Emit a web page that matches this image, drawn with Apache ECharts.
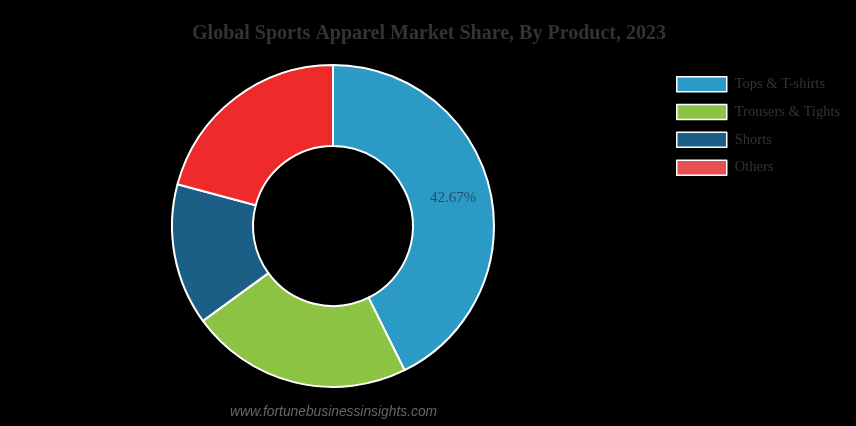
<!DOCTYPE html>
<html><head><meta charset="utf-8">
<script src="https://cdn.jsdelivr.net/npm/echarts@6/dist/echarts.min.js"></script>
<style>html,body{margin:0;padding:0;background:#000;}#c{width:856px;height:426px;}</style>
</head><body><div id="c"></div>
<script>
const categories = ["Tops & T-shirts", "Trousers & Tights", "Shorts", "Others"];
const shares = [42.67, 22.3, 14.2, 20.83];
const colors = ["#2b9bc6", "#8dc343", "#1b5f87", "#ee2a2a"];
const legendColors = ["#2b9bc6", "#8dc343", "#1b5f87", "#e85050"];

const chart = echarts.init(document.getElementById('c'));
chart.setOption({
  backgroundColor: '#000',
  title: {
    text: 'Global Sports Apparel Market Share, By Product, 2023',
    left: 424, top: 19, textAlign: 'center',
    textStyle: {fontFamily: 'Liberation Serif', fontWeight: 'bold', fontSize: 20, color: '#333'}
  },
  legend: {
    orient: 'vertical', left: 671, top: 71, itemWidth: 50, itemHeight: 15, itemGap: 11.3,
    icon: 'rect',
    textStyle: {fontFamily: 'Liberation Serif', fontSize: 14.5, color: '#333', padding: [0, 0, 0, 3]},
    data: categories.map((n, i) => ({name: n, itemStyle: {color: legendColors[i], borderColor: '#fff', borderWidth: 1.5}}))
  },
  graphic: [{
    type: 'text', left: 230, top: 405,
    style: {text: 'www.fortunebusinessinsights.com', fill: '#666', font: 'italic 13.8px "Liberation Sans"'}
  }],
  series: [{
    type: 'pie', center: [333, 226], radius: [80, 161], startAngle: 90, clockwise: true,
    silent: true,
    itemStyle: {borderColor: '#fff', borderWidth: 2},
    label: {show: false},
    labelLine: {show: false},
    data: categories.map((n, i) => ({
      name: n, value: shares[i], itemStyle: {color: colors[i]},
      label: i === 0 ? {show: true, position: 'inside', formatter: '{c}%', color: '#1f4e6e', fontFamily: 'Liberation Serif', fontSize: 15} : {show: false}
    }))
  }]
});
</script></body></html>
